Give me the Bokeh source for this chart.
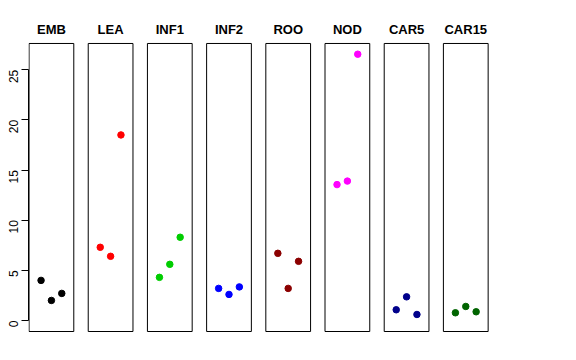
import math
from bokeh.plotting import figure
from bokeh.models import ColumnDataSource, FixedTicker, Range1d
from bokeh.core.properties import value
from bokeh.embed import file_html
from bokeh.resources import INLINE

groups = ["EMB", "LEA", "INF1", "INF2", "ROO", "NOD", "CAR5", "CAR15"]
colors = ["black", "red", "#00CD00", "blue", "#8B0000", "magenta", "#00008B", "#006400"]
EMB = [4.0, 2.0, 2.7]
LEA = [7.3, 6.4, 18.5]
INF1 = [4.3, 5.6, 8.3]
INF2 = [3.2, 2.6, 3.35]
ROO = [6.7, 3.2, 5.9]
NOD = [13.55, 13.9, 26.55]
CAR5 = [1.07, 2.36, 0.6]
CAR15 = [0.77, 1.4, 0.87]
series = [EMB, LEA, INF1, INF2, ROO, NOD, CAR5, CAR15]
y_ticks = [0, 5, 10, 15, 20, 25]

jit = 0.175
half = 0.378
box_bottom, box_top = -1.097, 27.62
title_y = 29.0

p = figure(width=496, height=348, output_backend="svg", toolbar_location=None,
           x_range=Range1d(-0.387, 7.519), y_range=Range1d(-1.994, 31.107),
           min_border_left=28, min_border_right=0, min_border_top=8, min_border_bottom=8)
p.outline_line_color = None
p.xgrid.visible = False
p.ygrid.visible = False
p.xaxis.visible = False
p.background_fill_color = "white"

# panel boxes
p.quad(left=[i - half for i in range(len(groups))], right=[i + half for i in range(len(groups))],
       bottom=[box_bottom] * len(groups), top=[box_top] * len(groups),
       fill_color=None, line_color="black", line_width=1)

# titles
p.text(x=list(range(len(groups))), y=[title_y] * len(groups), text=groups,
       text_align="center", text_baseline="alphabetic",
       text_font=value("Liberation Sans"), text_font_style="bold", text_font_size="13px",
       text_color="black")

# points
xs, ys, cs = [], [], []
for i, vals in enumerate(series):
    for j, v in enumerate(vals):
        xs.append(i + (j - 1) * jit)
        ys.append(v)
        cs.append(colors[i])
src = ColumnDataSource(dict(x=xs, y=ys, c=cs))
p.scatter("x", "y", source=src, size=6.5, color="c", line_color="c")

ax = p.yaxis[0]
ax.ticker = FixedTicker(ticks=y_ticks)
ax.bounds = (0, 25)
ax.major_label_orientation = math.pi / 2
ax.major_tick_out = 7
ax.major_tick_in = 0
ax.minor_tick_out = 0
ax.minor_tick_in = 0
ax.major_label_standoff = 8
ax.major_label_text_font = "Liberation Sans"
ax.major_label_text_font_size = "12px"
ax.major_label_text_color = "black"
ax.axis_line_color = "black"
ax.major_tick_line_color = "black"

open("out.html", "w").write(file_html(p, INLINE))
